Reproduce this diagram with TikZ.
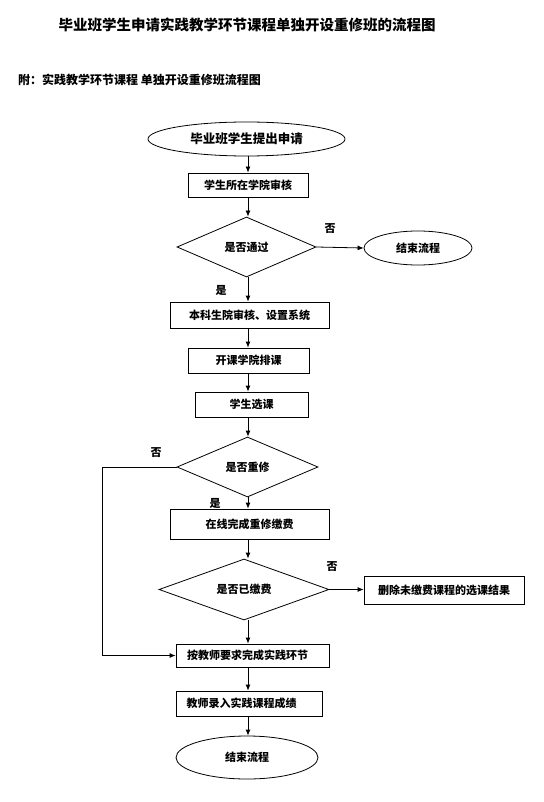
\documentclass[tikz,border=0pt]{standalone}
\usepackage{fontspec}
\setmainfont{Noto Sans CJK SC}
\usetikzlibrary{shapes.geometric,arrows.meta}
\begin{document}
\begin{tikzpicture}[x=1pt,y=-1pt,
  font=\bfseries\fontsize{11}{12}\selectfont,
  base/.style={draw,line width=0.8pt,inner sep=0pt},
  box/.style={base,rectangle},
  dia/.style={base,diamond,shape aspect=2.5},
  oval/.style={base,ellipse},
  lbl/.style={inner sep=0pt},
  arr/.style={line width=0.8pt,-{Latex[length=6pt,width=5pt]}},
  ln/.style={line width=0.8pt}]
\useasboundingbox (0,0) rectangle (543,802);
\coordinate (spine) at (248,0);
\node[lbl,font=\bfseries\fontsize{14.5}{15}\selectfont] (title) at (247,25) {毕业班学生申请实践教学环节课程单独开设重修班的流程图};
\node[lbl,anchor=west,font=\bfseries\fontsize{12}{13}\selectfont] (sub) at (18,80) {附：实践教学环节课程 单独开设重修班流程图};

\node[oval,minimum width=197,minimum height=34,font=\bfseries\fontsize{12.5}{13}\selectfont] (start) at (246.5,139) {毕业班学生提出申请};
\node[box,minimum width=120,minimum height=24] (b1) at (248,185) {学生所在学院审核};
\node[dia,minimum width=139,minimum height=60] (d1) at (246.5,247) {是否通过};
\node[oval,minimum width=108,minimum height=34] (e1) at (418,248) {结束流程};
\node[box,minimum width=159,minimum height=26] (b2) at (249.5,315) {本科生院审核、设置系统};
\node[box,minimum width=121,minimum height=25] (b3) at (248.5,360.5) {开课学院排课};
\node[box,minimum width=113,minimum height=25] (b4) at (251.5,404.5) {学生选课};
\node[dia,minimum width=141,minimum height=60] (d2) at (247.5,467) {是否重修};
\node[box,minimum width=159,minimum height=30] (b5) at (249.5,524) {在线完成重修缴费};
\node[dia,minimum width=170,minimum height=61] (d3) at (244,589.5) {是否已缴费};
\node[box,minimum width=160,minimum height=28] (b6) at (444,590) {删除未缴费课程的选课结果};
\node[box,minimum width=153,minimum height=23] (b7) at (252.5,655.5) {\hspace*{-10pt}按教师要求完成实践环节};
\node[box,minimum width=146,minimum height=25] (b8) at (249,703.5) {\hspace*{-15pt}教师录入实践课程成绩};
\node[oval,minimum width=142,minimum height=43] (e2) at (247,757.5) {结束流程};

\node[lbl] (n1) at (330,229) {否};
\node[lbl] (y1) at (221,290) {是};
\node[lbl] (n2) at (156,453) {否};
\node[lbl] (y2) at (215,503) {是};
\node[lbl] (n3) at (332,567) {否};

\draw[arr] (start.south -| spine) -- (b1.north -| spine);
\draw[arr] (b1.south -| spine) -- (d1.north -| spine);
\draw[arr] (d1.east) -- (e1.west);
\draw[arr] (d1.south -| spine) -- (b2.north -| spine);
\draw[arr] (b2.south -| spine) -- (b3.north -| spine);
\draw[arr] (b3.south -| spine) -- (b4.north -| spine);
\draw[arr] (b4.south -| spine) -- (d2.north -| spine);
\draw[arr] (d2.south -| spine) -- (b5.north -| spine);
\draw[arr] (b5.south -| spine) -- (d3.north -| spine);
\draw[arr] (d3.east) -- (b6.west |- d3.east);
\draw[arr] (d3.south -| spine) -- (b7.north -| spine);
\draw[arr] (b7.south -| spine) -- (b8.north -| spine);
\draw[arr] (b8.south -| spine) -- (e2.north -| spine);
\coordinate (lft) at (102,0);
\draw[arr] (d2.west) -- (d2.west -| lft) -- (b7.west -| lft) -- (b7.west);
\end{tikzpicture}
\end{document}
